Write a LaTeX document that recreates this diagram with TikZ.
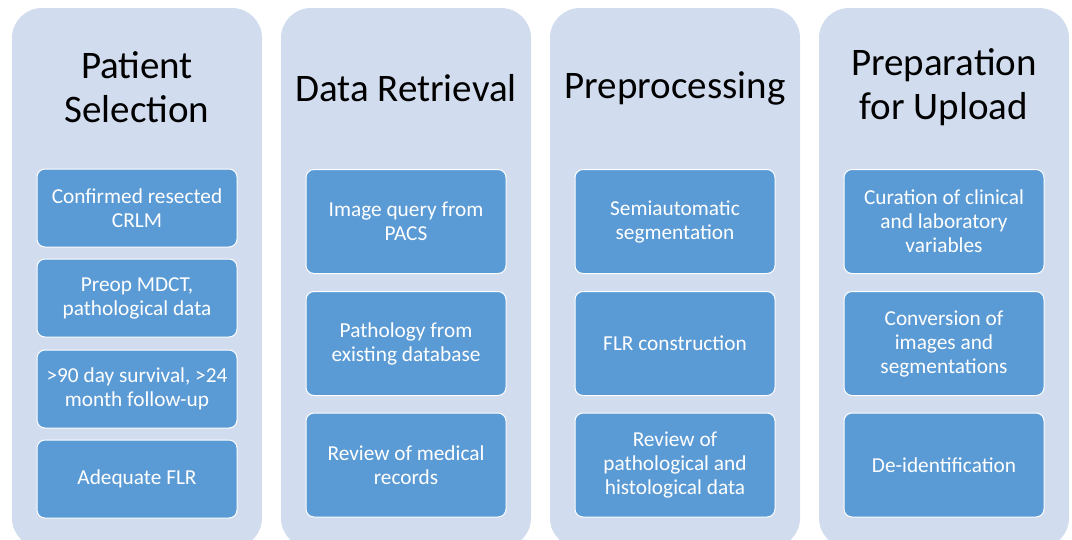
\documentclass[tikz,border=0pt]{standalone}
\usepackage{fontspec}
\setmainfont{Carlito}
\usetikzlibrary{positioning}
\definecolor{panelbg}{RGB}{209,220,238}
\definecolor{taskblue}{RGB}{91,155,213}

\begin{document}
\begin{tikzpicture}[x=1pt, y=-1pt,
            stage/.style={rectangle, rounded corners=30pt, fill=panelbg, minimum width=250pt, minimum height=540pt, inner sep=0pt},
            head/.style={align=center, font=\fontsize{39}{44}\selectfont},
            task/.style={rectangle, rounded corners=8pt, draw=white, line width=1pt, fill=taskblue, text=white, minimum width=200pt, align=center, font=\fontsize{21.3}{24}\selectfont},
            short/.style={task, minimum height=78pt},
            tall/.style={task, minimum height=104pt}]

            \clip (0,0) rectangle (1072,539);

            \node[stage] (sel) at (137,278) {};
            \node[stage] (ret) at (406,278) {};
            \node[stage] (pre) at (675,278) {};
            \node[stage] (upl) at (944,278) {};

            \node[head] (selh) at (137,87) {Patient\\Selection};
            \node[head] (reth) at (406,88) {Data Retrieval};
            \node[head] (preh) at (675,88) {Preprocessing};
            \node[head] (uplh) at (944,87) {Preparation\\for Upload};

            \node[short] (sel1) at (137,208) {Confirmed resected\\CRLM};
            \node[short] (sel2) at (137,298) {Preop MDCT,\\pathological data};
            \node[short] (sel3) at (137,389) {>90 day survival, >24\\month follow-up};
            \node[short] (sel4) at (137,479) {Adequate FLR};

            \node[tall] (ret1) at (406,221.5) {Image query from\\PACS};
            \node[tall] (ret2) at (406,343.5) {Pathology from\\existing database};
            \node[tall] (ret3) at (406,465) {Review of medical\\records};

            \node[tall] (pre1) at (675,221.5) {Semiautomatic\\segmentation};
            \node[tall] (pre2) at (675,343.5) {FLR construction};
            \node[tall] (pre3) at (675,465) {Review of\\pathological and\\histological data};

            \node[tall] (upl1) at (944,221.5) {Curation of clinical\\and laboratory\\variables};
            \node[tall] (upl2) at (944,343.5) {Conversion of\\images and\\segmentations};
            \node[tall] (upl3) at (944,465) {De-identification};
        \end{tikzpicture}
\end{document}
